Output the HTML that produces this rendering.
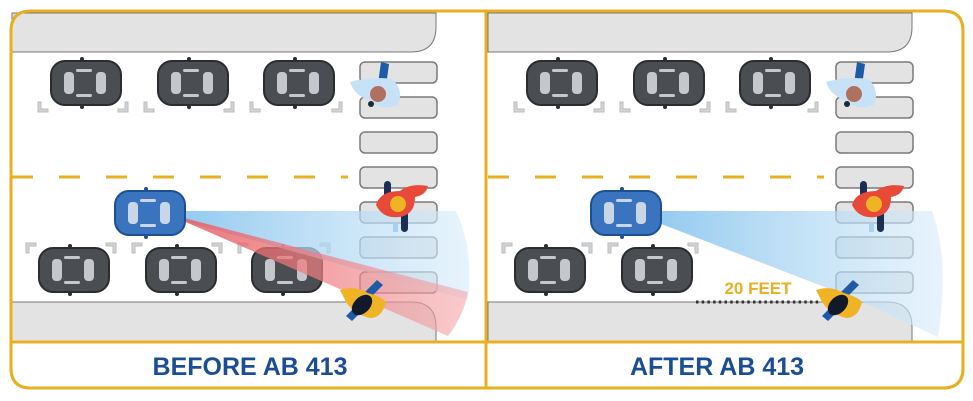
<!DOCTYPE html>
<html><head><meta charset="utf-8"><style>
html,body{margin:0;padding:0;background:#fff;}
svg{display:block;}
</style></head><body>
<svg width="973" height="401" viewBox="0 0 973 401" xmlns="http://www.w3.org/2000/svg">
<defs>
<g id="car">
  <rect x="-35" y="-22" width="70" height="44" rx="14" fill="#4a4d51" stroke="#2a2c2f" stroke-width="2"/>
  <rect x="-22" y="-11" width="10" height="22" rx="4" fill="#c5c7ca"/>
  <rect x="10" y="-11" width="10" height="22" rx="4" fill="#c5c7ca"/>
  <rect x="-10" y="-14" width="16" height="3" rx="1.5" fill="#c5c7ca"/>
  <rect x="-10" y="11" width="16" height="3" rx="1.5" fill="#c5c7ca"/>
  <circle cx="-4" cy="-24" r="2" fill="#2a2c2f"/><circle cx="-4" cy="24" r="2" fill="#2a2c2f"/>
</g>
<g id="bcar">
  <rect x="-35" y="-22" width="70" height="44" rx="14" fill="#3b74be" stroke="#1f4f93" stroke-width="2"/>
  <rect x="-22" y="-11" width="10" height="22" rx="4" fill="#c9d6e8"/>
  <rect x="10" y="-11" width="10" height="22" rx="4" fill="#c9d6e8"/>
  <rect x="-10" y="-14" width="16" height="3" rx="1.5" fill="#c9d6e8"/>
  <rect x="-10" y="11" width="16" height="3" rx="1.5" fill="#c9d6e8"/>
  <circle cx="-4" cy="-24" r="2" fill="#1f4f93"/><circle cx="-4" cy="24" r="2" fill="#1f4f93"/>
</g>
<path id="brL" d="M0 0 h10 v3 h-7 v7 h-3z" fill="#d3d4d6" stroke="#bbb" stroke-width="1"/>
<linearGradient id="bl" x1="0" x2="1" y1="0" y2="0">
  <stop offset="0" stop-color="#7fc0ec" stop-opacity="0.9"/>
  <stop offset="1" stop-color="#d8ecfa" stop-opacity="0.6"/>
</linearGradient>
<linearGradient id="rd" x1="0" x2="1" y1="0" y2="0">
  <stop offset="0" stop-color="#e8545a" stop-opacity="0.85"/>
  <stop offset="1" stop-color="#f4a8ab" stop-opacity="0.6"/>
</linearGradient>
<g id="base">
  <rect x="0" y="0" width="476" height="342" fill="#fff"/>
  <path d="M0 13 H424 V27 Q424 52 399 52 H0Z" fill="#e3e3e3" stroke="#777" stroke-width="1"/>
  <path d="M0 302 H399 Q424 302 424 327 V342 H0Z" fill="#e3e3e3" stroke="#777" stroke-width="1"/>
  <g fill="#e3e3e3" stroke="#7a7a7a" stroke-width="1.5">
    <rect x="348" y="62" width="77" height="21" rx="5"/>
    <rect x="348" y="97" width="77" height="21" rx="5"/>
    <rect x="348" y="132" width="77" height="21" rx="5"/>
    <rect x="348" y="167" width="77" height="21" rx="5"/>
    <rect x="348" y="202" width="77" height="21" rx="5"/>
    <rect x="348" y="237" width="77" height="21" rx="5"/>
    <rect x="348" y="272" width="77" height="21" rx="5"/>
  </g>
  <line x1="0" y1="177" x2="336" y2="177" stroke="#e8b020" stroke-width="3" stroke-dasharray="21 26"/>
  <use href="#car" x="74" y="83"/><use href="#car" x="181" y="83"/><use href="#car" x="287" y="83"/>
  <g>
    <use href="#brL" transform="translate(26,112) scale(1,-1)"/>
    <use href="#brL" transform="translate(116,112) scale(-1,-1)"/>
    <use href="#brL" transform="translate(132,112) scale(1,-1)"/>
    <use href="#brL" transform="translate(222,112) scale(-1,-1)"/>
    <use href="#brL" transform="translate(238,112) scale(1,-1)"/>
    <use href="#brL" transform="translate(330,112) scale(-1,-1)"/>
  </g>
</g>
</defs>

<g transform="translate(12,0)">
  <use href="#base"/>
  <g>
    <use href="#brL" transform="translate(14,243)"/>
    <use href="#brL" transform="translate(104,243) scale(-1,1)"/>
    <use href="#brL" transform="translate(120,243)"/>
    <use href="#brL" transform="translate(210,243) scale(-1,1)"/>
    <use href="#brL" transform="translate(226,243)"/>
    <use href="#brL" transform="translate(318,243) scale(-1,1)"/>
  </g>
  <use href="#car" x="62" y="270"/><use href="#car" x="169" y="270"/><use href="#car" x="275" y="270"/>
  <path d="M153 211 L444 211 Q462 250 456 300 L150 215Z" fill="url(#bl)"/>
  <path d="M153 213 L456 292 Q452 315 436 336 Z" fill="url(#rd)"/>
</g>
<use href="#bcar" x="150" y="213"/>

<g transform="translate(488,0)">
  <use href="#base"/>
  <g>
    <use href="#brL" transform="translate(14,243)"/>
    <use href="#brL" transform="translate(104,243) scale(-1,1)"/>
    <use href="#brL" transform="translate(120,243)"/>
    <use href="#brL" transform="translate(210,243) scale(-1,1)"/>
  </g>
  <use href="#car" x="62" y="270"/><use href="#car" x="169" y="270"/>
  <path d="M153 211 L444 211 Q462 260 450 337 L370 300 L150 215Z" fill="url(#bl)"/>
  <line x1="208" y1="302" x2="332" y2="302" stroke="#333" stroke-width="3" stroke-dasharray="2.5 3.2"/>
  <text x="270" y="294" text-anchor="middle" font-family="Liberation Sans, sans-serif" font-weight="bold" font-size="17" fill="#e8b020">20 FEET</text>
</g>
<use href="#bcar" x="626" y="213"/>

<g id="peds">
  <g>
    <path d="M381 62 l8 2 l-3 22 l-8 -2z" fill="#1e5aa8"/>
    <path d="M350 82 q22 -6 42 -3 q12 10 6 26 q-18 6 -28 -4 q-16 -6 -20 -19z" fill="#c7e1f6"/>
    <circle cx="378" cy="94" r="8" fill="#b07060"/>
    <circle cx="371" cy="104" r="3" fill="#1a2a3a"/>
  </g>
  <g>
    <rect x="384" y="181" width="7" height="18" rx="3.5" fill="#1a2f52"/>
    <rect x="401" y="208" width="7" height="24" rx="3.5" fill="#1a2f52"/>
    <path d="M376 205 q4 -14 24 -14 q10 -8 28 -5 q-2 9 -13 11 q0 18 -16 20 q-16 2 -23 -12z" fill="#e84a3a"/>
    <circle cx="398" cy="204" r="8" fill="#f0b323"/>
    <rect x="393" y="224" width="5" height="8" fill="#a8d0f0"/>
  </g>
  <g>
    <path d="M377 280 l6 5 l-16 16 l-6 -5z" fill="#1e5aa8"/>
    <path d="M360 302 l6 5 l-14 14 l-6 -5z" fill="#1e5aa8"/>
    <path d="M340 290 q14 -5 28 3 q14 4 18 9 q-4 16 -16 16 q-16 -4 -24 -16 z" fill="#f0b323"/>
    <ellipse cx="362" cy="305" rx="8" ry="12" transform="rotate(45 362 305)" fill="#111a2a"/>
  </g>
</g>
<use href="#peds" x="476" y="0"/>

<path d="M31 11 H943 Q963 11 963 31 V368 Q963 388 943 388 H31 Q11 388 11 368 V31 Q11 11 31 11Z" fill="none" stroke="#e8b020" stroke-width="3"/>
<line x1="486" y1="11" x2="486" y2="388" stroke="#e8b020" stroke-width="3"/>
<line x1="11" y1="342" x2="963" y2="342" stroke="#e8b020" stroke-width="3"/>
<rect x="12.5" y="343.5" width="472" height="43" fill="#fff"/>
<rect x="487.5" y="343.5" width="474" height="43" fill="#fff"/>
<path d="M11 343 V368 Q11 388 31 388 H943 Q963 388 963 368 V343" fill="none" stroke="#e8b020" stroke-width="3"/>
<line x1="486" y1="342" x2="486" y2="388" stroke="#e8b020" stroke-width="3"/>
<text x="250" y="375" text-anchor="middle" font-family="Liberation Sans, sans-serif" font-weight="bold" font-size="25" fill="#1b4d95">BEFORE AB 413</text>
<text x="717" y="375" text-anchor="middle" font-family="Liberation Sans, sans-serif" font-weight="bold" font-size="25" fill="#1b4d95">AFTER AB 413</text>
</svg>
</body></html>
